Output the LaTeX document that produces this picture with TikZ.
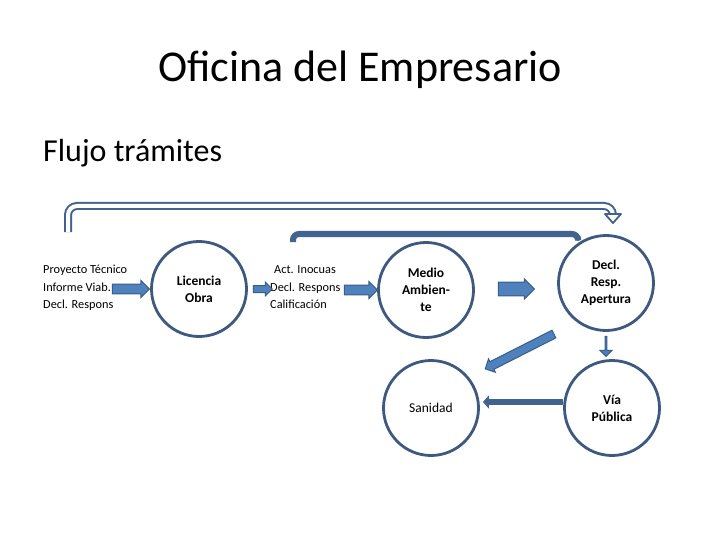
\documentclass[tikz,border=0pt]{standalone}
\usepackage{fontspec}
\setmainfont{Carlito}
\usetikzlibrary{shapes.arrows,arrows.meta}
\definecolor{circ}{RGB}{61,89,128}
\definecolor{afill}{RGB}{79,129,189}
\definecolor{aline}{RGB}{56,93,138}
\definecolor{conn}{RGB}{66,99,142}
\tikzset{
  stepcirc/.style={circle,draw=circ,line width=2.8pt,minimum size=95pt,inner sep=0pt,align=center,font=\fontsize{13.5}{17}\selectfont\bfseries},
  listtxt/.style={anchor=base west,inner sep=0pt,font=\fontsize{12.3}{13}\selectfont},
  barrow/.style={single arrow,fill=afill,draw=aline,line width=1pt,inner xsep=0pt,single arrow tip angle=90,single arrow head extend=3pt}
}
\begin{document}
\begin{tikzpicture}[x=1pt,y=-1pt]
\useasboundingbox (0,0) rectangle (720,540);
% titles
\node[font=\fontsize{44}{48}\selectfont,anchor=base] (title) at (360,82) {Oficina del Empresario};
\node[font=\fontsize{32}{36}\selectfont,anchor=base west,inner sep=0pt] (sub) at (43,162) {Flujo trámites};
% circles
\node[stepcirc] (lic) at (199,289) {Licencia\\Obra};
\node[stepcirc] (med) at (426,290) {Medio\\Ambien-\\te};
\node[stepcirc] (decl) at (606,283) {Decl.\\Resp.\\Apertura};
\node[stepcirc,font=\fontsize{13.5}{16}\selectfont] (san) at (431,408) {Sanidad};
\node[stepcirc] (via) at (612,408) {Vía\\Pública};
% lists
\node[listtxt] (l1) at (43,273) {Proyecto Técnico};
\node[listtxt] (l2) at (43,291) {Informe Viab.};
\node[listtxt] (l3) at (43,308) {Decl. Respons};
\node[listtxt] (m1) at (274,273) {Act. Inocuas};
\node[listtxt] (m2) at (270,291) {Decl. Respons};
\node[listtxt] (m3) at (270,308) {Calificación};
% block arrows
\node[barrow,minimum height=37pt,minimum width=17pt,inner ysep=3.5pt] (a1) at (128.5,289) {};
\node[barrow,minimum height=19pt,minimum width=14pt,inner ysep=2.5pt] (a2) at (261,289) {};
\node[barrow,minimum height=33pt,minimum width=17pt,inner ysep=3.5pt] (a3) at (358.5,290) {};
\node[barrow,minimum height=36pt,minimum width=20pt,inner ysep=6pt] (a4) at (513,289) {};
\node[barrow,minimum height=20pt,minimum width=12pt,inner ysep=3.5pt,shape border rotate=270] (a5) at (606,346) {};
\node[barrow,minimum height=77pt,minimum width=15pt,inner ysep=3.5pt,rotate=206.9] (a6) at (521.5,350.5) {};
% via -> sanidad
\draw[conn,line width=6pt,-{Triangle[length=6pt,width=13pt]}] ([yshift=6pt]via.west) -- ([yshift=6pt,xshift=3pt]san.east);
% top connectors
\coordinate (b0) at (68,232);
\coordinate (b1) at (613,216);
\draw[conn,line width=2pt,double=white,double distance=4pt,rounded corners=9pt] (b0) -- (68,206) -- (613,206) -- (b1);
\draw[conn,line width=1.8pt,fill=white,line join=round] (605,214) -- (621,214) -- (613,223) -- cycle;
\coordinate (c0) at (293,242);
\coordinate (c1) at (578,238);
\draw[conn,line width=6pt,rounded corners=6pt] (c0) -- (293,234) -- (578,234) -- (c1);
\fill[conn] (c1) circle (3pt);
\end{tikzpicture}
\end{document}
